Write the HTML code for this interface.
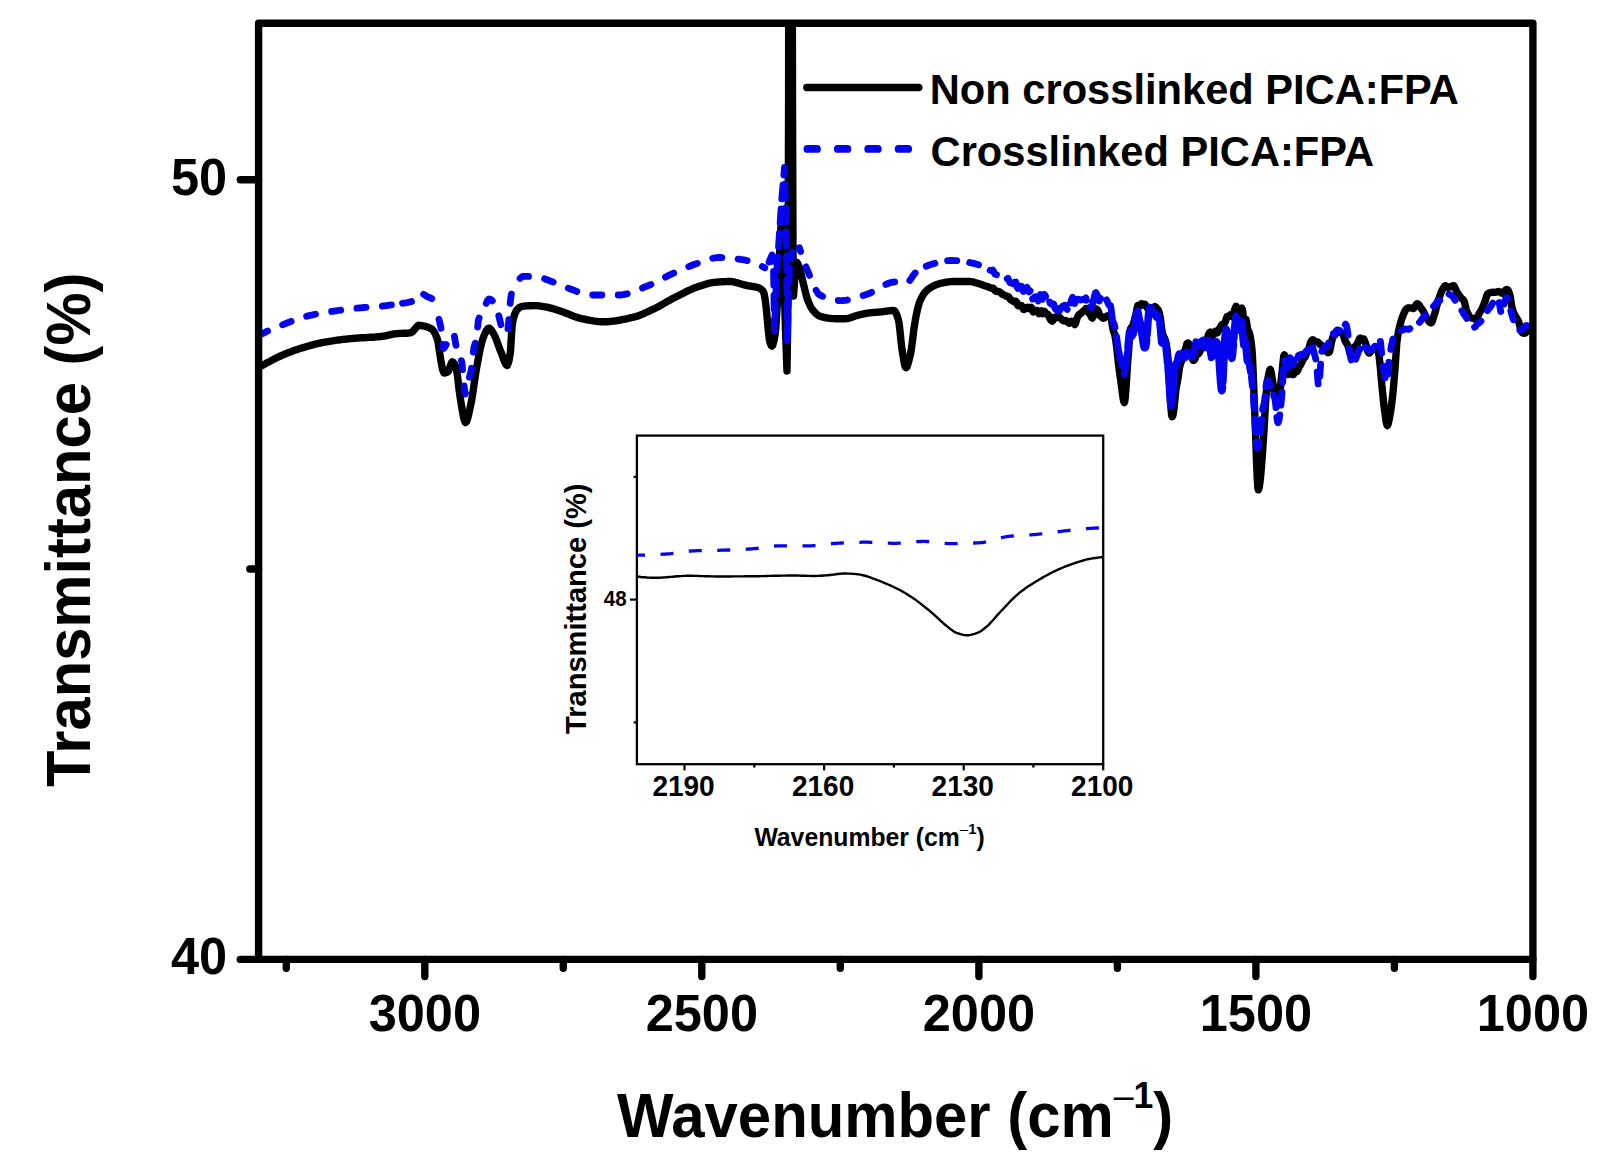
<!DOCTYPE html>
<html lang="en">
<head>
<meta charset="utf-8">
<title>FTIR spectra: Non crosslinked vs Crosslinked PICA:FPA</title>
<style>
html,body{margin:0;padding:0;background:#fff;}
body{width:1603px;height:1174px;overflow:hidden;}
svg{display:block;}
</style>
</head>
<body>
<svg width="1603" height="1174" viewBox="0 0 1603 1174">
<rect width="1603" height="1174" fill="#fff"/>
<defs><clipPath id="cm"><rect x="258.6" y="23.2" width="1274.3000000000002" height="936.1999999999999"/></clipPath><clipPath id="ci"><rect x="636.9" y="435.6" width="466.30000000000007" height="328.6"/></clipPath></defs>
<g clip-path="url(#cm)" fill="none" stroke-linejoin="round" stroke-linecap="round">
<path d="M258.6,367.5 L260.1,366.7 L261.6,365.8 L262.2,365.5 L263.1,365.0 L264.6,364.2 L266.1,363.3 L267.6,362.5 L269.2,361.7 L270.7,360.9 L272.2,360.0 L273.7,359.3 L275.2,358.5 L276.7,357.8 L278.1,357.1 L278.2,357.1 L279.7,356.4 L281.2,355.7 L282.7,355.0 L284.2,354.4 L285.7,353.7 L287.2,353.1 L288.8,352.5 L290.3,351.9 L291.8,351.4 L293.3,350.8 L294.8,350.3 L296.3,349.8 L296.8,349.6 L297.8,349.3 L299.3,348.8 L300.8,348.3 L302.3,347.8 L303.8,347.4 L305.3,346.9 L306.8,346.5 L308.4,346.0 L309.9,345.6 L311.4,345.2 L312.9,344.8 L314.4,344.4 L315.9,344.0 L317.4,343.6 L318.9,343.3 L320.4,343.0 L321.9,342.7 L323.4,342.4 L324.9,342.1 L324.9,342.1 L326.5,341.8 L328.0,341.6 L329.5,341.3 L331.0,341.1 L332.5,340.9 L334.0,340.6 L335.5,340.4 L337.0,340.2 L338.5,340.0 L340.0,339.8 L341.5,339.6 L343.0,339.4 L344.5,339.3 L346.1,339.1 L347.6,338.9 L349.1,338.8 L350.6,338.6 L352.1,338.5 L353.1,338.4 L353.6,338.4 L355.1,338.2 L356.6,338.1 L358.1,338.0 L359.6,337.9 L361.1,337.8 L362.6,337.7 L364.1,337.7 L365.7,337.6 L367.2,337.5 L368.7,337.4 L370.2,337.3 L371.7,337.3 L373.2,337.2 L374.7,337.1 L376.2,336.9 L377.7,336.8 L379.2,336.7 L380.7,336.5 L381.2,336.5 L382.2,336.4 L383.7,336.1 L385.3,335.8 L386.8,335.5 L388.3,335.2 L389.8,334.8 L391.3,334.5 L392.8,334.2 L394.3,333.9 L395.8,333.7 L396.1,333.7 L397.3,333.6 L398.8,333.5 L400.3,333.4 L401.8,333.4 L403.3,333.3 L404.9,333.2 L406.4,333.2 L407.9,333.1 L409.4,332.9 L410.9,332.7 L411.1,332.7 L412.4,331.9 L413.9,330.1 L414.9,329.0 L415.4,328.4 L416.9,326.5 L418.4,325.3 L418.6,325.3 L419.9,325.4 L421.4,325.6 L422.9,325.9 L424.3,326.2 L424.5,326.2 L426.0,326.6 L427.5,327.0 L429.0,327.6 L430.5,328.3 L431.7,329.0 L432.0,329.2 L433.5,330.9 L435.0,333.4 L436.5,336.9 L437.4,339.3 L438.0,341.8 L439.5,351.7 L441.0,361.5 L441.1,361.8 L442.5,369.3 L443.9,373.0 L444.1,373.0 L445.6,372.8 L447.1,372.3 L447.7,372.1 L448.6,370.9 L450.1,366.6 L451.6,362.6 L452.4,361.8 L453.1,362.1 L454.6,364.1 L456.1,367.4 L456.1,367.4 L457.6,376.6 L459.1,389.9 L459.9,395.5 L460.6,400.1 L462.2,409.9 L463.7,418.2 L465.2,422.5 L465.5,422.7 L466.7,421.3 L468.2,416.5 L469.7,409.7 L471.1,403.0 L471.2,402.6 L472.7,394.0 L474.2,383.5 L475.7,373.2 L476.7,367.4 L477.2,364.6 L478.7,356.5 L480.2,348.8 L481.8,342.3 L483.3,337.5 L483.3,337.4 L484.8,333.9 L486.3,330.7 L487.8,328.6 L488.9,328.1 L489.3,328.2 L490.8,329.4 L492.3,331.6 L493.6,333.7 L493.8,334.0 L495.3,337.1 L496.8,340.9 L498.3,345.1 L499.8,349.3 L501.1,352.4 L501.4,353.0 L502.9,357.2 L504.4,361.4 L505.9,364.5 L507.1,365.5 L507.4,365.4 L508.9,361.0 L510.4,352.4 L510.4,352.4 L511.9,328.5 L512.3,324.3 L513.4,318.6 L514.9,313.5 L516.1,311.2 L516.4,310.7 L517.9,308.9 L519.4,307.5 L521.0,306.7 L521.7,306.5 L522.5,306.4 L524.0,306.2 L525.5,306.0 L527.0,305.9 L528.5,305.8 L530.0,305.7 L531.5,305.7 L533.0,305.6 L534.5,305.6 L534.8,305.6 L536.0,305.6 L537.5,305.7 L539.0,305.9 L540.6,306.1 L542.1,306.3 L543.6,306.6 L545.0,306.8 L545.1,306.8 L546.6,307.1 L548.1,307.4 L549.6,307.8 L551.1,308.2 L552.6,308.6 L554.1,309.1 L555.6,309.6 L557.1,310.0 L558.6,310.5 L558.7,310.5 L560.2,311.0 L561.7,311.5 L563.2,312.0 L564.7,312.6 L566.2,313.2 L567.7,313.8 L569.2,314.4 L570.7,315.0 L572.2,315.6 L573.7,316.2 L575.2,316.7 L576.7,317.3 L578.2,317.8 L579.8,318.2 L581.3,318.6 L582.8,318.9 L583.1,319.0 L584.3,319.2 L585.8,319.5 L587.3,319.8 L588.8,320.1 L590.3,320.4 L591.8,320.6 L593.3,320.9 L594.8,321.1 L596.3,321.3 L597.9,321.5 L599.4,321.6 L600.9,321.7 L602.4,321.8 L603.7,321.8 L603.9,321.8 L605.4,321.8 L606.9,321.7 L608.4,321.6 L609.9,321.5 L611.4,321.4 L612.9,321.2 L614.4,321.0 L615.9,320.8 L617.5,320.5 L619.0,320.3 L620.5,320.0 L622.0,319.7 L623.5,319.4 L625.0,319.1 L626.5,318.8 L628.0,318.4 L629.5,318.1 L631.0,317.7 L632.5,317.4 L633.7,317.1 L634.0,317.0 L635.5,316.6 L637.1,316.2 L638.6,315.7 L640.1,315.1 L641.6,314.5 L643.1,313.9 L644.6,313.2 L646.1,312.5 L647.6,311.8 L649.1,311.1 L650.6,310.4 L652.1,309.7 L652.4,309.6 L653.6,309.0 L655.1,308.3 L656.7,307.5 L658.2,306.7 L659.7,305.9 L661.2,305.0 L662.7,304.2 L664.2,303.3 L665.7,302.4 L667.2,301.6 L668.7,300.7 L670.2,299.9 L671.7,299.0 L673.2,298.2 L674.7,297.5 L674.9,297.4 L676.3,296.7 L677.8,296.0 L679.3,295.2 L680.8,294.4 L682.3,293.7 L683.8,292.9 L685.3,292.1 L686.8,291.4 L688.3,290.7 L689.8,290.0 L691.3,289.3 L692.8,288.6 L694.3,288.0 L695.9,287.4 L697.4,286.9 L698.9,286.3 L699.3,286.2 L700.4,285.9 L701.9,285.4 L703.4,284.9 L704.9,284.4 L706.4,284.0 L707.9,283.6 L709.4,283.2 L710.9,282.9 L712.4,282.6 L713.9,282.4 L714.3,282.4 L715.5,282.3 L717.0,282.1 L718.5,282.0 L720.0,281.9 L721.5,281.8 L723.0,281.7 L724.5,281.6 L726.0,281.6 L727.5,281.5 L729.0,281.5 L729.2,281.5 L730.5,281.5 L732.0,281.7 L733.6,281.9 L735.1,282.3 L736.6,282.6 L738.1,283.1 L739.6,283.5 L741.1,284.0 L742.6,284.4 L744.1,284.8 L745.6,285.2 L746.1,285.3 L747.1,285.5 L748.6,285.8 L750.1,286.0 L751.6,286.3 L753.2,286.5 L754.7,286.8 L756.2,287.1 L757.7,287.6 L759.2,288.1 L759.2,288.1 L760.7,288.9 L762.2,290.2 L763.7,292.4 L763.9,292.7 L765.2,299.6 L766.7,312.4 L766.7,312.6 L768.2,329.6 L769.5,340.5 L769.7,341.3 L771.2,345.5 L772.0,346.1 L772.8,345.2 L774.3,339.2 L775.0,335.0 L775.8,327.8 L777.3,303.9 L777.5,300.0 L778.8,271.5 L779.5,255.0 L780.3,238.7 L781.8,210.0 L781.8,210.0 L783.6,262.0 L785.5,330.0 L787.0,371.0 L788.0,300.0 L788.6,100.0 L788.7,-20.0 L792.3,-20.0 L792.5,100.0 L793.0,250.0 L793.5,296.0 L795.0,275.0 L797.0,262.5 L797.0,262.5 L797.7,263.6 L798.4,265.1 L799.1,266.7 L799.4,267.5 L799.8,268.7 L800.5,271.2 L801.2,274.1 L801.9,277.2 L802.6,280.3 L803.3,283.5 L804.0,286.2 L804.0,286.3 L804.7,289.1 L805.4,292.0 L806.1,294.8 L806.8,297.4 L807.5,299.6 L807.8,300.3 L808.3,301.5 L809.0,303.2 L809.7,304.8 L810.4,306.2 L811.1,307.5 L811.8,308.7 L812.5,309.7 L812.5,309.7 L813.2,310.5 L813.9,311.4 L814.6,312.1 L815.3,312.9 L816.0,313.6 L816.7,314.2 L817.4,314.8 L818.1,315.3 L818.8,315.7 L819.5,316.0 L820.0,316.2 L820.2,316.3 L820.9,316.5 L821.6,316.7 L822.3,316.9 L823.0,317.1 L823.7,317.3 L824.4,317.4 L825.1,317.6 L825.8,317.7 L826.5,317.9 L827.2,318.0 L827.9,318.1 L828.6,318.2 L829.4,318.3 L830.1,318.4 L830.8,318.5 L831.5,318.5 L832.2,318.6 L832.9,318.6 L833.0,318.6 L833.6,318.6 L834.3,318.6 L835.0,318.7 L835.7,318.7 L836.4,318.7 L837.1,318.7 L837.8,318.7 L838.5,318.7 L839.2,318.7 L839.9,318.8 L840.6,318.8 L841.3,318.8 L842.0,318.8 L842.7,318.8 L843.4,318.8 L844.1,318.8 L844.8,318.8 L845.0,318.8 L845.5,318.8 L846.2,318.7 L846.9,318.6 L847.6,318.5 L848.3,318.4 L849.0,318.2 L849.7,318.0 L850.5,317.7 L851.2,317.5 L851.9,317.2 L852.6,317.0 L853.3,316.7 L854.0,316.5 L854.7,316.2 L855.4,316.0 L856.1,315.7 L856.8,315.5 L857.5,315.3 L858.0,315.2 L858.2,315.2 L858.9,315.0 L859.6,314.8 L860.3,314.7 L861.0,314.5 L861.7,314.3 L862.4,314.2 L863.1,314.0 L863.8,313.9 L864.5,313.7 L865.2,313.6 L865.9,313.4 L866.6,313.3 L867.3,313.2 L868.0,313.1 L868.7,313.0 L869.4,312.9 L870.0,312.8 L870.1,312.8 L870.8,312.7 L871.5,312.6 L872.3,312.6 L873.0,312.5 L873.7,312.5 L874.4,312.4 L875.1,312.4 L875.8,312.3 L876.5,312.3 L877.2,312.2 L877.9,312.2 L878.6,312.1 L879.3,312.1 L880.0,312.0 L880.0,312.0 L880.7,311.9 L881.4,311.9 L882.1,311.8 L882.8,311.7 L883.5,311.6 L884.2,311.5 L884.9,311.4 L885.6,311.3 L886.3,311.2 L887.0,311.1 L887.7,311.0 L888.4,310.9 L889.1,310.8 L889.8,310.7 L890.5,310.7 L891.2,310.6 L891.9,310.5 L892.6,310.5 L893.4,310.5 L893.7,310.5 L894.1,310.6 L894.8,311.1 L895.5,312.1 L896.2,313.5 L896.9,315.3 L897.6,317.3 L898.3,319.5 L898.4,319.9 L899.0,322.8 L899.7,328.3 L900.4,335.0 L901.1,341.9 L901.8,347.8 L902.1,349.9 L902.5,352.3 L903.2,356.8 L903.9,361.1 L904.6,364.6 L905.3,367.0 L905.9,367.7 L906.0,367.7 L906.7,367.1 L907.4,365.6 L908.1,363.6 L908.8,361.0 L909.5,358.2 L910.2,355.2 L910.6,353.6 L910.9,352.0 L911.6,347.7 L912.3,342.3 L913.0,336.5 L913.7,330.7 L914.5,325.2 L915.2,320.7 L915.3,319.9 L915.9,317.0 L916.6,313.6 L917.3,310.3 L918.0,307.4 L918.7,304.8 L919.4,302.5 L919.9,301.2 L920.1,300.8 L920.8,299.3 L921.5,297.9 L922.2,296.5 L922.9,295.3 L923.6,294.2 L924.3,293.2 L925.0,292.3 L925.7,291.5 L926.4,290.8 L927.1,290.1 L927.4,289.9 L927.8,289.6 L928.5,289.1 L929.2,288.6 L929.9,288.1 L930.6,287.6 L931.3,287.2 L932.0,286.8 L932.7,286.4 L933.4,286.0 L934.1,285.6 L934.8,285.3 L935.5,285.0 L936.3,284.7 L937.0,284.4 L937.7,284.2 L938.4,284.0 L939.1,283.8 L939.8,283.6 L940.5,283.4 L940.5,283.4 L941.2,283.2 L941.9,283.1 L942.6,282.9 L943.3,282.8 L944.0,282.7 L944.7,282.5 L945.4,282.4 L946.1,282.2 L946.8,282.1 L947.5,282.0 L948.2,281.9 L948.9,281.8 L949.6,281.7 L950.3,281.7 L951.0,281.6 L951.7,281.6 L952.4,281.5 L953.1,281.5 L953.7,281.5 L953.8,281.5 L954.5,281.5 L955.2,281.5 L955.9,281.5 L956.6,281.5 L957.4,281.5 L958.1,281.5 L958.8,281.5 L959.5,281.5 L960.2,281.5 L960.9,281.5 L961.6,281.5 L962.3,281.5 L963.0,281.5 L963.7,281.5 L964.4,281.5 L965.1,281.5 L965.8,281.5 L966.5,281.5 L967.2,281.5 L967.9,281.5 L968.6,281.5 L968.7,281.5 L969.3,281.5 L970.0,281.5 L970.7,281.6 L971.4,281.7 L972.1,281.8 L972.8,281.9 L973.5,282.1 L974.2,282.3 L974.9,282.5 L975.6,282.7 L976.3,282.9 L977.0,283.1 L977.7,283.3 L978.5,283.5 L979.2,283.8 L979.9,284.0 L980.6,284.3 L981.3,284.5 L982.0,284.7 L982.7,285.0 L983.4,285.2 L983.6,285.3 L984.1,285.5 L984.8,285.7 L985.5,286.0 L986.2,286.2 L986.9,286.3 L987.6,286.4 L988.3,286.8 L989.0,287.2 L989.7,287.6 L990.4,287.9 L991.1,288.2 L991.8,288.3 L992.5,288.2 L993.2,288.1 L993.9,288.9 L994.6,289.9 L995.3,290.9 L996.0,291.1 L996.7,291.4 L997.4,291.5 L998.1,291.5 L998.6,291.5 L998.8,291.5 L999.5,291.9 L1000.3,292.4 L1001.0,293.0 L1001.7,293.6 L1002.4,294.3 L1003.1,294.7 L1003.8,294.9 L1004.5,295.1 L1005.2,295.5 L1005.9,295.9 L1006.6,296.4 L1007.3,296.4 L1008.0,296.5 L1008.7,296.8 L1009.4,298.0 L1010.1,299.2 L1010.8,299.9 L1011.5,300.2 L1012.2,300.5 L1012.9,301.0 L1013.6,301.5 L1013.6,301.5 L1014.3,301.8 L1015.0,301.5 L1015.7,301.2 L1016.4,301.8 L1017.1,303.6 L1017.8,305.5 L1018.5,305.8 L1019.2,305.6 L1019.9,305.4 L1020.6,305.5 L1021.4,305.7 L1022.1,306.4 L1022.8,307.9 L1023.5,309.4 L1024.2,309.5 L1024.9,308.9 L1025.6,308.2 L1026.3,307.8 L1026.7,307.5 L1027.0,307.4 L1027.7,307.2 L1028.4,308.0 L1029.1,308.7 L1029.8,308.7 L1030.5,308.0 L1031.2,307.4 L1031.9,308.8 L1032.6,310.5 L1033.3,311.9 L1034.0,311.3 L1034.7,310.7 L1035.4,310.4 L1036.1,310.4 L1036.8,310.4 L1037.5,311.3 L1038.2,312.5 L1038.9,313.6 L1039.6,312.3 L1039.9,311.9 L1040.3,311.1 L1041.0,310.8 L1041.7,312.3 L1042.5,313.8 L1043.2,313.6 L1043.9,312.5 L1044.6,311.5 L1045.3,312.4 L1046.0,313.5 L1046.7,314.3 L1047.4,314.4 L1048.1,314.5 L1048.8,315.5 L1049.5,317.4 L1050.2,319.3 L1050.9,320.1 L1051.6,320.7 L1052.3,321.1 L1053.0,320.4 L1053.0,320.4 L1053.7,318.3 L1054.4,317.2 L1055.1,317.4 L1055.8,317.7 L1056.5,317.3 L1057.2,316.6 L1057.9,315.9 L1058.6,316.3 L1058.6,316.4 L1059.3,317.1 L1060.0,318.1 L1060.7,318.5 L1061.4,319.1 L1062.1,319.8 L1062.8,320.5 L1063.5,320.7 L1064.2,320.9 L1064.2,320.9 L1064.9,320.7 L1065.6,320.4 L1066.3,321.1 L1067.0,321.7 L1067.7,322.1 L1068.4,322.5 L1069.1,323.1 L1069.8,322.4 L1069.8,322.4 L1070.5,321.6 L1071.2,321.2 L1071.9,321.5 L1072.6,321.7 L1073.3,322.3 L1073.6,322.9 L1074.0,323.7 L1074.7,324.6 L1075.5,323.4 L1076.2,321.0 L1076.9,318.6 L1077.6,317.0 L1078.3,315.7 L1079.0,314.7 L1079.2,314.5 L1079.7,314.2 L1080.4,313.8 L1081.1,313.2 L1081.8,312.5 L1082.5,311.8 L1083.2,311.2 L1083.9,310.8 L1084.6,310.3 L1085.3,309.4 L1086.0,308.5 L1086.7,308.5 L1086.7,308.6 L1087.4,310.0 L1088.1,311.8 L1088.8,312.9 L1089.5,313.6 L1090.2,314.2 L1090.9,315.9 L1091.6,317.4 L1092.3,318.0 L1092.3,318.0 L1093.0,316.8 L1093.7,315.1 L1094.4,313.2 L1095.1,311.1 L1095.8,309.1 L1096.5,309.0 L1097.2,309.6 L1097.9,310.5 L1097.9,310.5 L1098.6,312.1 L1099.3,314.3 L1100.0,315.8 L1100.7,316.2 L1101.4,316.5 L1102.1,317.4 L1102.8,318.1 L1103.5,318.3 L1103.6,318.3 L1104.2,318.0 L1104.9,317.5 L1105.6,316.9 L1106.3,316.5 L1107.0,316.0 L1107.7,315.9 L1108.4,316.0 L1109.1,316.4 L1109.2,316.4 L1109.8,316.3 L1110.5,316.8 L1111.2,318.4 L1111.9,322.6 L1112.6,327.2 L1113.3,330.6 L1114.0,332.5 L1114.7,334.5 L1114.8,334.6 L1115.4,338.0 L1116.1,342.8 L1116.8,348.2 L1117.5,354.7 L1118.2,361.4 L1119.0,367.8 L1119.7,373.3 L1120.0,375.7 L1120.4,378.2 L1121.1,383.2 L1121.8,388.6 L1122.5,394.0 L1123.2,398.9 L1123.9,402.0 L1124.3,402.5 L1124.6,402.1 L1125.3,397.2 L1126.0,388.4 L1126.7,377.5 L1127.4,366.3 L1128.0,357.8 L1128.1,357.0 L1128.8,348.0 L1129.5,338.5 L1130.2,330.1 L1130.9,327.9 L1130.9,327.9 L1131.6,327.8 L1132.3,327.2 L1133.0,325.1 L1133.7,323.0 L1134.4,320.3 L1135.1,317.5 L1135.8,314.9 L1136.5,311.2 L1137.2,307.7 L1137.5,306.3 L1137.9,305.5 L1138.6,305.9 L1139.3,306.4 L1140.0,305.9 L1140.7,304.6 L1141.4,303.8 L1142.1,303.9 L1142.8,304.1 L1143.5,304.4 L1144.2,304.8 L1144.9,304.5 L1145.0,304.4 L1145.6,305.3 L1146.3,306.4 L1147.0,307.7 L1147.7,308.3 L1148.4,308.2 L1149.1,307.7 L1149.8,307.9 L1150.5,307.8 L1151.2,307.9 L1151.9,308.3 L1152.6,308.8 L1153.3,308.3 L1154.0,307.4 L1154.3,307.0 L1154.7,306.5 L1155.4,306.9 L1156.1,307.7 L1156.8,308.7 L1157.5,309.1 L1158.2,309.7 L1158.9,311.6 L1159.6,314.7 L1160.3,317.9 L1161.0,323.2 L1161.7,329.1 L1161.8,329.5 L1162.5,334.8 L1163.2,335.6 L1163.9,336.9 L1164.6,338.5 L1165.3,340.4 L1166.0,342.9 L1166.7,347.1 L1167.4,352.4 L1167.5,353.5 L1168.1,359.7 L1168.8,370.5 L1169.5,383.3 L1170.2,396.3 L1170.9,407.7 L1171.6,415.0 L1172.1,416.8 L1172.3,416.8 L1173.0,414.9 L1173.7,410.9 L1174.4,404.8 L1175.1,397.5 L1175.8,390.1 L1176.5,385.6 L1176.8,384.2 L1177.2,382.7 L1177.9,378.9 L1178.6,373.7 L1179.3,368.7 L1180.0,365.5 L1180.7,363.2 L1181.4,361.4 L1182.1,357.8 L1182.4,356.5 L1182.8,354.8 L1183.5,352.5 L1184.2,351.7 L1184.9,351.0 L1185.6,349.0 L1186.3,346.1 L1187.0,343.6 L1187.7,343.0 L1188.1,343.0 L1188.4,343.1 L1189.1,344.5 L1189.8,347.0 L1190.5,350.0 L1191.2,353.3 L1191.9,356.6 L1192.6,359.3 L1193.3,360.4 L1193.7,360.4 L1194.0,360.2 L1194.7,359.5 L1195.4,357.6 L1196.1,355.5 L1196.8,354.0 L1197.5,354.1 L1198.2,354.1 L1198.9,353.3 L1199.6,352.0 L1200.3,350.7 L1201.0,349.3 L1201.2,348.9 L1201.7,347.8 L1202.4,346.3 L1203.1,344.8 L1203.8,343.2 L1204.5,342.7 L1205.2,343.3 L1206.0,343.9 L1206.7,342.0 L1207.4,338.9 L1208.1,335.7 L1208.7,334.2 L1208.8,334.1 L1209.5,332.6 L1210.2,332.2 L1210.9,333.9 L1211.6,336.0 L1212.3,335.9 L1213.0,334.5 L1213.7,333.1 L1214.4,332.3 L1215.1,331.4 L1215.8,331.0 L1216.2,331.6 L1216.5,332.0 L1217.2,332.9 L1217.9,332.2 L1218.6,330.5 L1219.3,329.0 L1220.0,327.7 L1220.7,326.5 L1221.4,325.3 L1222.1,324.5 L1222.8,324.5 L1223.5,324.4 L1224.2,323.7 L1224.9,322.6 L1225.6,320.9 L1226.3,318.7 L1227.0,316.5 L1227.4,316.5 L1227.7,316.5 L1228.4,316.5 L1229.1,316.2 L1229.8,315.5 L1230.5,314.7 L1231.2,314.9 L1231.9,315.9 L1232.6,316.8 L1233.3,314.6 L1234.0,311.9 L1234.7,309.4 L1235.4,307.8 L1236.1,306.3 L1236.8,307.0 L1236.8,307.1 L1237.5,310.7 L1238.2,314.5 L1238.9,313.7 L1239.6,311.4 L1240.3,309.3 L1241.0,308.7 L1241.7,308.2 L1242.4,309.6 L1243.1,314.8 L1243.8,320.0 L1244.5,321.3 L1245.2,320.4 L1245.9,319.4 L1246.1,319.8 L1246.6,322.6 L1247.3,326.7 L1248.0,330.4 L1248.7,331.4 L1249.5,333.3 L1250.2,336.4 L1250.9,340.7 L1251.6,345.8 L1251.8,347.9 L1252.3,353.8 L1253.0,368.2 L1253.7,385.8 L1254.4,404.1 L1254.6,409.7 L1255.1,421.2 L1255.8,440.8 L1256.5,460.6 L1257.2,477.3 L1257.9,487.9 L1258.3,489.8 L1258.6,489.5 L1259.3,486.7 L1260.0,481.9 L1260.7,475.5 L1261.4,467.7 L1262.1,458.2 L1262.8,448.3 L1263.0,445.3 L1263.5,438.8 L1264.2,426.8 L1264.9,414.3 L1265.6,402.0 L1265.6,401.9 L1266.3,392.4 L1267.0,384.2 L1267.7,379.6 L1268.0,378.1 L1268.4,376.1 L1269.1,372.5 L1269.8,369.9 L1270.3,369.5 L1270.5,369.9 L1271.2,372.6 L1271.9,376.8 L1272.5,380.4 L1272.6,381.0 L1273.3,385.9 L1274.0,391.2 L1274.7,394.7 L1275.0,395.1 L1275.4,395.8 L1276.1,397.5 L1276.8,400.6 L1277.5,402.8 L1277.8,403.0 L1278.2,402.3 L1278.9,399.0 L1279.5,395.6 L1279.6,394.9 L1280.3,389.1 L1281.0,381.9 L1281.6,376.7 L1281.7,375.7 L1282.4,369.1 L1283.1,361.7 L1283.8,355.8 L1284.4,354.8 L1284.5,355.0 L1285.2,358.0 L1285.9,362.4 L1286.5,365.9 L1286.6,366.7 L1287.3,371.3 L1288.0,374.6 L1288.7,374.1 L1289.1,373.0 L1289.4,371.7 L1290.1,371.5 L1290.8,372.9 L1291.5,374.3 L1292.2,374.5 L1293.0,374.6 L1293.7,374.3 L1294.0,373.4 L1294.4,372.5 L1295.1,370.6 L1295.8,370.1 L1296.5,370.7 L1297.2,371.3 L1297.9,370.0 L1298.6,368.1 L1299.3,366.3 L1299.4,366.2 L1300.0,365.7 L1300.7,364.6 L1301.4,363.2 L1302.1,361.5 L1302.8,359.9 L1303.0,359.4 L1303.5,358.9 L1304.2,358.1 L1304.9,357.3 L1305.6,355.6 L1306.3,353.9 L1306.9,352.4 L1307.0,352.3 L1307.7,351.3 L1308.4,350.1 L1309.1,348.0 L1309.8,345.2 L1310.0,344.4 L1310.5,342.6 L1311.2,341.3 L1311.9,340.3 L1312.6,339.8 L1313.3,340.0 L1313.4,340.0 L1314.0,340.8 L1314.7,341.3 L1315.4,341.5 L1316.1,341.7 L1316.5,341.8 L1316.8,341.8 L1317.5,341.9 L1318.2,342.5 L1318.9,343.1 L1319.6,343.8 L1320.0,344.3 L1320.3,344.6 L1321.0,345.0 L1321.7,345.2 L1322.4,345.8 L1323.1,346.9 L1323.8,348.1 L1324.5,348.7 L1325.0,349.0 L1325.2,349.2 L1325.9,349.9 L1326.6,351.0 L1327.3,352.2 L1328.0,352.7 L1328.7,352.4 L1329.4,351.9 L1329.4,351.8 L1330.1,349.7 L1330.8,345.9 L1331.5,341.9 L1332.0,340.3 L1332.2,339.6 L1332.9,337.1 L1333.6,334.9 L1334.3,333.7 L1335.0,333.4 L1335.0,333.4 L1335.7,332.7 L1336.4,331.4 L1337.2,330.2 L1337.9,330.5 L1338.6,331.1 L1338.7,331.3 L1339.3,331.8 L1340.0,331.8 L1340.7,332.1 L1341.4,332.5 L1341.5,332.5 L1342.1,332.8 L1342.8,333.4 L1343.5,335.4 L1344.2,337.9 L1344.3,338.4 L1344.9,340.5 L1345.6,341.6 L1346.3,342.8 L1347.0,344.0 L1347.0,344.0 L1347.7,345.4 L1348.4,347.0 L1349.1,350.3 L1349.8,352.9 L1350.0,353.3 L1350.5,353.8 L1351.2,351.9 L1351.9,350.4 L1352.6,349.4 L1353.3,348.2 L1353.5,347.9 L1354.0,347.4 L1354.7,346.8 L1355.4,346.1 L1356.1,345.5 L1356.5,345.0 L1356.8,344.5 L1357.5,343.3 L1358.2,341.9 L1358.9,340.1 L1359.5,338.8 L1359.6,338.6 L1360.3,338.1 L1361.0,339.0 L1361.7,340.0 L1362.2,339.8 L1362.4,339.4 L1363.1,338.9 L1363.8,339.0 L1364.5,340.7 L1365.2,342.5 L1365.5,343.1 L1365.9,344.3 L1366.6,346.9 L1367.3,349.6 L1368.0,351.7 L1368.7,352.9 L1368.7,352.9 L1369.4,353.1 L1370.1,352.3 L1370.8,351.3 L1371.5,350.3 L1372.0,350.0 L1372.2,349.8 L1372.9,349.3 L1373.6,348.4 L1374.3,347.4 L1375.0,346.6 L1375.3,346.5 L1375.7,346.7 L1376.4,347.7 L1377.1,349.1 L1377.5,349.7 L1377.8,350.5 L1378.5,353.1 L1379.0,355.4 L1379.2,357.1 L1379.9,363.5 L1380.7,371.4 L1381.4,379.6 L1381.8,384.4 L1382.1,387.0 L1382.8,394.3 L1383.5,401.2 L1384.2,407.4 L1384.5,409.9 L1384.9,412.6 L1385.6,417.9 L1386.3,422.4 L1387.0,425.1 L1387.3,425.5 L1387.7,425.2 L1388.4,423.1 L1389.1,419.8 L1389.8,416.0 L1390.0,414.8 L1390.5,412.2 L1391.2,407.5 L1391.9,402.0 L1392.6,395.9 L1393.0,392.0 L1393.3,389.2 L1394.0,381.1 L1394.7,372.2 L1395.4,363.0 L1395.6,360.2 L1396.1,352.9 L1396.8,343.3 L1396.8,343.2 L1397.5,337.5 L1398.2,333.0 L1398.9,329.6 L1399.4,327.4 L1399.6,326.7 L1400.3,324.0 L1401.0,321.4 L1401.7,319.0 L1402.4,317.2 L1402.5,316.9 L1403.1,315.4 L1403.8,313.7 L1404.5,312.1 L1405.2,310.6 L1405.9,309.6 L1405.9,309.6 L1406.6,308.9 L1407.3,308.3 L1408.0,307.9 L1408.7,307.8 L1408.7,307.8 L1409.4,307.9 L1410.1,307.9 L1410.8,307.9 L1411.5,308.1 L1412.2,308.3 L1412.9,308.5 L1413.0,308.6 L1413.6,308.4 L1414.3,307.7 L1415.0,306.6 L1415.7,305.4 L1416.4,304.4 L1417.1,303.8 L1417.2,303.8 L1417.8,303.9 L1418.5,304.4 L1419.2,305.2 L1419.9,306.3 L1420.6,307.5 L1421.3,308.5 L1421.9,309.2 L1422.0,309.4 L1422.7,310.4 L1423.4,311.7 L1424.2,313.1 L1424.9,314.6 L1425.6,316.1 L1426.3,317.4 L1426.6,318.0 L1427.0,318.5 L1427.7,319.6 L1428.4,320.8 L1429.1,321.6 L1429.8,322.3 L1430.5,322.7 L1431.2,322.9 L1431.2,322.9 L1431.9,322.2 L1432.6,320.3 L1433.3,318.0 L1434.0,315.8 L1434.0,315.7 L1434.7,313.5 L1435.4,311.1 L1436.1,308.5 L1436.8,305.7 L1437.5,303.0 L1437.8,301.8 L1438.2,300.7 L1438.9,298.7 L1439.6,296.7 L1440.3,294.6 L1441.0,292.6 L1441.1,292.4 L1441.7,291.0 L1442.4,289.7 L1443.1,288.5 L1443.8,287.4 L1444.5,286.4 L1445.2,285.8 L1445.3,285.7 L1445.9,285.9 L1446.6,286.5 L1447.3,287.2 L1448.0,287.3 L1448.7,287.2 L1449.0,287.1 L1449.4,287.0 L1450.1,286.9 L1450.8,286.8 L1451.5,286.5 L1452.2,286.1 L1452.9,285.7 L1453.6,285.7 L1453.7,285.7 L1454.3,286.3 L1455.0,287.7 L1455.7,289.3 L1456.4,291.0 L1457.0,292.1 L1457.1,292.3 L1457.8,293.4 L1458.5,294.4 L1459.2,295.4 L1459.9,296.4 L1460.6,297.3 L1461.2,297.9 L1461.3,298.1 L1462.0,298.7 L1462.7,299.2 L1463.4,300.0 L1464.0,300.9 L1464.1,301.2 L1464.8,303.5 L1465.5,306.6 L1466.2,309.6 L1466.9,311.7 L1466.9,311.8 L1467.7,313.2 L1468.4,314.5 L1469.1,315.8 L1469.8,316.8 L1470.5,317.5 L1470.6,317.5 L1471.2,317.8 L1471.9,318.1 L1472.6,318.3 L1473.3,318.5 L1474.0,318.7 L1474.7,318.7 L1475.4,318.7 L1476.1,318.6 L1476.2,318.6 L1476.8,318.0 L1477.5,316.7 L1478.2,315.4 L1478.9,314.1 L1479.6,312.8 L1480.0,312.1 L1480.3,311.7 L1481.0,310.5 L1481.7,309.3 L1482.4,307.8 L1483.1,306.2 L1483.8,304.6 L1484.5,302.9 L1484.7,302.4 L1485.2,300.9 L1485.9,298.4 L1486.6,296.0 L1487.3,294.4 L1487.5,294.2 L1488.0,293.7 L1488.7,293.2 L1489.4,292.8 L1490.1,292.7 L1490.8,292.6 L1491.5,292.5 L1492.2,292.3 L1492.2,292.3 L1492.9,292.1 L1493.6,292.2 L1494.3,292.3 L1495.0,292.4 L1495.7,292.2 L1496.4,292.0 L1497.1,291.8 L1497.8,291.7 L1498.5,291.5 L1498.7,291.4 L1499.2,291.6 L1499.9,292.1 L1500.6,292.6 L1501.3,293.0 L1502.0,293.4 L1502.5,293.4 L1502.7,293.3 L1503.4,292.8 L1504.1,291.9 L1504.8,291.0 L1505.5,290.2 L1506.2,289.8 L1506.7,289.5 L1506.9,289.5 L1507.6,289.8 L1508.3,290.6 L1509.0,292.4 L1509.7,294.5 L1510.0,295.3 L1510.4,297.5 L1511.2,302.9 L1511.8,307.0 L1511.9,307.2 L1512.6,309.7 L1513.3,311.7 L1514.0,313.3 L1514.7,314.8 L1514.7,314.9 L1515.4,316.1 L1516.1,317.2 L1516.8,318.3 L1517.5,319.5 L1518.2,320.8 L1518.4,321.2 L1518.9,322.5 L1519.6,325.1 L1520.3,327.8 L1521.0,330.2 L1521.7,332.0 L1522.1,332.5 L1522.4,332.7 L1523.1,333.1 L1523.8,333.3 L1524.5,333.2 L1525.0,333.1 L1525.2,333.0 L1525.9,332.5 L1526.6,331.5 L1527.3,330.5 L1528.0,329.9 L1528.7,329.8 L1528.7,329.8 L1529.4,330.1 L1530.1,330.3 L1530.8,330.6 L1531.5,331.2 L1532.2,332.0 L1532.9,333.0" stroke="#000" stroke-width="7.4"/>
<path d="M258.4,335.6 L259.9,334.9 L261.4,334.1 L262.9,333.4 L264.4,332.7 L265.9,331.9 L267.4,331.2 L268.9,330.6 L270.5,329.9 L272.0,329.2 L273.5,328.5 L275.0,327.9 L276.5,327.2 L278.0,326.6 L279.5,326.0 L281.0,325.4 L282.5,324.8 L283.7,324.3 L284.0,324.2 L285.5,323.6 L287.0,323.0 L288.5,322.4 L290.0,321.8 L291.6,321.3 L293.1,320.7 L294.6,320.1 L296.1,319.6 L297.6,319.0 L299.1,318.5 L300.6,318.0 L302.1,317.6 L303.6,317.1 L305.1,316.7 L306.6,316.3 L308.1,315.9 L308.1,315.9 L309.6,315.5 L311.1,315.2 L312.7,314.9 L314.2,314.5 L315.7,314.2 L317.2,313.9 L318.7,313.7 L320.2,313.4 L321.7,313.1 L323.2,312.8 L324.7,312.6 L326.2,312.3 L327.7,312.1 L329.2,311.9 L330.7,311.6 L332.2,311.4 L333.8,311.2 L335.3,310.9 L336.2,310.8 L336.8,310.7 L338.3,310.5 L339.8,310.3 L341.3,310.1 L342.8,309.9 L344.3,309.7 L345.8,309.5 L347.3,309.3 L348.8,309.1 L350.3,308.9 L351.8,308.7 L353.3,308.6 L354.9,308.4 L356.4,308.2 L357.9,308.1 L359.4,307.9 L360.5,307.8 L360.9,307.8 L362.4,307.6 L363.9,307.5 L365.4,307.4 L366.9,307.3 L368.4,307.1 L369.9,307.0 L371.4,306.9 L372.9,306.8 L374.4,306.7 L376.0,306.6 L377.5,306.5 L379.0,306.4 L380.5,306.2 L382.0,306.1 L383.0,306.0 L383.5,305.9 L385.0,305.8 L386.5,305.6 L388.0,305.4 L389.5,305.2 L391.0,305.0 L392.5,304.8 L394.0,304.6" stroke="#0404ee" stroke-width="6.8" stroke-dasharray="9.2 16.3" stroke-dashoffset="24.49"/>
<path d="M395.5,304.4 L397.1,304.2 L398.6,303.9 L400.0,303.7 L400.1,303.7 L401.6,303.5 L403.1,303.2 L404.6,303.0 L406.1,302.8 L407.6,302.5 L409.1,302.2 L410.6,301.8 L412.1,301.3 L413.0,301.0 L413.6,300.7 L415.1,299.4 L416.5,298.0 L416.6,297.8 L418.2,295.2 L419.7,293.1 L420.0,293.0 L421.2,293.2 L422.7,293.8 L424.2,294.7 L425.7,295.7 L427.0,296.5 L427.2,296.6 L428.7,297.3 L430.2,297.8 L431.7,298.5 L433.2,299.5 L434.5,300.6 L434.7,300.9 L436.2,306.3" stroke="#0404ee" stroke-width="6.8" stroke-dasharray="9.2 16.3" stroke-dashoffset="18.39"/>
<path d="M437.8,314.1 L438.3,316.7 L439.3,320.6 L440.8,327.0 L441.4,330.5 L442.3,339.5 L443.4,348.5 L443.8,348.4 L445.3,346.3 L446.8,343.3 L447.0,343.0 L448.3,340.8 L449.8,337.9 L451.3,335.3 L452.8,333.7 L453.5,333.5 L454.3,335.6 L455.8,344.7 L456.5,348.0 L457.3,350.6 L458.8,353.7 L460.4,356.9 L461.9,362.3 L462.0,363.0 L463.3,378.0 L463.4,378.7 L464.9,393.2 L465.2,394.0 L466.4,391.0 L467.9,383.1 L468.3,381.2 L469.4,377.2 L470.9,371.7 L472.0,366.0 L472.4,362.2 L473.5,350.0 L473.9,347.7 L475.4,342.3 L476.7,336.7 L476.9,334.8 L478.2,321.3 L478.4,320.3 L479.9,315.5 L481.5,312.4 L483.0,310.0 L484.4,307.5 L484.5,307.4 L486.0,303.8 L487.5,300.5 L489.0,299.0 L489.0,299.0 L490.5,299.4 L491.5,300.0 L492.0,300.4 L493.5,302.4 L495.0,305.5 L496.5,309.2 L498.0,313.3 L498.2,313.7 L499.5,318.6 L501.0,324.9 L502.0,327.5 L502.6,328.5 L504.1,330.9 L505.6,332.7 L507.1,333.6 L507.4,333.6 L508.6,323.0 L509.0,318.0 L510.1,304.1 L510.5,300.0 L511.6,292.4 L513.0,286.5 L513.1,286.3 L514.6,283.8" stroke="#0404ee" stroke-width="6.8" stroke-dasharray="9.2 16.3" stroke-dashoffset="20.21"/>
<path d="M516.1,282.2 L517.6,280.8 L518.0,280.5 L519.1,279.4 L520.6,277.9 L522.1,276.7 L523.5,276.3 L523.7,276.3 L525.2,276.3 L526.7,276.4 L528.2,276.4 L529.7,276.5 L531.2,276.6 L532.7,276.7 L534.2,276.8 L535.7,277.0 L537.2,277.1 L538.6,277.3 L538.7,277.3 L540.2,277.6 L541.7,277.9 L543.2,278.4 L544.8,278.9 L546.3,279.5 L547.8,280.1 L549.3,280.6 L549.8,280.8 L550.8,281.2 L552.3,281.7 L553.8,282.3 L555.3,282.9 L556.8,283.6 L558.3,284.2 L559.8,284.8 L561.3,285.5 L562.8,286.1 L564.3,286.7 L565.9,287.3 L567.4,287.8 L568.1,288.1 L568.9,288.4 L570.4,288.9 L571.9,289.5 L573.4,290.1 L574.9,290.7 L576.4,291.3 L577.9,291.9 L579.4,292.4 L580.9,292.9 L582.4,293.4 L583.9,293.9 L585.5,294.3 L587.0,294.6 L588.5,294.8 L590.0,294.9 L591.5,295.0 L591.5,295.0 L593.0,295.0 L594.5,295.0 L596.0,295.0 L597.5,295.0 L599.0,295.0 L600.5,295.0 L602.0,295.0 L603.5,295.0 L605.0,295.0 L606.5,295.0 L608.1,295.0 L609.6,295.0 L611.1,295.0 L612.6,295.0 L614.1,295.0 L615.6,295.0 L617.1,295.0 L618.6,295.0 L619.1,295.0 L620.1,295.0 L621.6,294.9 L623.1,294.7 L624.6,294.4 L626.1,294.1 L627.6,293.7 L629.2,293.3 L630.7,292.8 L632.2,292.2 L633.7,291.7 L635.2,291.1 L636.7,290.4 L638.2,289.8 L639.7,289.1 L641.2,288.5 L642.7,287.9 L644.2,287.2 L645.7,286.6 L646.8,286.2 L647.2,286.0 L648.8,285.4 L650.3,284.8 L651.8,284.1 L653.3,283.4 L654.8,282.6 L656.3,281.9 L657.8,281.1 L659.3,280.3 L660.8,279.5 L662.3,278.7 L663.8,277.9 L665.3,277.2 L666.8,276.4 L668.3,275.6 L669.8,274.9 L671.4,274.2 L672.9,273.5 L673.0,273.4 L674.4,272.8 L675.9,272.1 L677.4,271.4 L678.9,270.7 L680.4,270.1 L681.9,269.4 L683.4,268.8 L684.9,268.1 L686.4,267.5 L687.9,266.9 L689.4,266.3 L691.0,265.7 L692.5,265.1 L694.0,264.6 L694.0,264.6 L695.5,264.1 L697.0,263.5 L698.5,263.0 L700.0,262.4 L701.5,261.8 L703.0,261.2 L704.5,260.7 L706.0,260.1 L707.5,259.6 L709.0,259.2 L710.5,258.7 L712.0,258.4 L713.6,258.0 L715.1,257.8 L716.6,257.6 L718.1,257.5 L718.9,257.5 L719.6,257.5 L721.1,257.5 L722.6,257.6 L724.1,257.6 L725.6,257.7 L727.1,257.8 L728.6,258.0 L730.1,258.1 L731.6,258.3 L733.1,258.4 L734.7,258.6 L736.2,258.8 L737.7,259.0 L739.2,259.2 L740.7,259.5 L742.2,259.7 L743.7,259.9 L744.2,260.0 L745.2,260.2 L746.7,260.5 L748.2,260.9 L749.7,261.3 L751.2,261.8 L752.7,262.3 L754.2,262.9 L755.8,263.5 L757.3,264.2 L758.8,264.9 L760.3,265.6 L761.8,266.3 L763.3,267.0 L764.8,267.8 L764.8,267.8" stroke="#0404ee" stroke-width="6.8" stroke-dasharray="9.2 16.3" stroke-dashoffset="20.05"/>
<path d="M769.0,262.0 L772.0,255.0 L773.5,268.0 L774.5,331.0 L775.5,300.0 L777.0,268.0 L779.0,240.0 L781.5,202.0 L784.5,167.5 L785.5,202.0 L786.3,240.0 L787.0,300.0 L787.4,341.0 L788.2,300.0 L789.5,268.0 L792.0,252.0" stroke="#0404ee" stroke-width="6.8" stroke-dasharray="14 10" stroke-dashoffset="0"/>
<path d="M799.4,247.8 L799.4,247.8 L800.1,250.0 L800.8,252.1 L801.5,254.3 L802.2,256.3 L802.9,258.4 L803.6,260.4 L804.3,262.3 L805.0,264.2 L805.7,266.1 L806.4,267.9 L807.1,269.6 L807.8,271.2 L807.8,271.3 L808.5,272.9 L809.2,274.6 L809.9,276.4 L810.6,278.1 L811.3,279.9 L812.0,281.6 L812.7,283.3 L813.4,284.9 L814.2,286.5 L814.9,288.0 L815.6,289.4 L816.3,290.7 L817.0,291.9 L817.7,292.9 L818.4,293.8 L819.1,294.5 L819.8,295.0 L820.0,295.1 L820.5,295.3 L821.2,295.7 L821.9,296.0 L822.6,296.3 L823.3,296.6 L824.0,296.9 L824.7,297.2 L825.4,297.5 L826.1,297.7 L826.8,298.0 L827.5,298.2 L828.2,298.5 L828.9,298.7 L829.6,298.9 L830.3,299.1 L831.0,299.3 L831.7,299.5 L832.4,299.6 L833.1,299.8 L833.8,299.9 L834.5,300.0 L835.2,300.2 L835.9,300.3 L836.6,300.3 L837.3,300.4 L838.0,300.5 L838.7,300.5 L839.4,300.6 L840.1,300.6 L840.8,300.6 L841.0,300.6 L841.5,300.6 L842.3,300.6 L843.0,300.5 L843.7,300.5 L844.4,300.4 L845.1,300.4 L845.8,300.3 L846.5,300.2 L847.2,300.1 L847.9,299.9 L848.6,299.8 L849.3,299.7 L850.0,299.5 L850.7,299.4 L851.4,299.2 L852.1,299.0 L852.8,298.8 L853.5,298.6 L854.2,298.4 L854.9,298.2 L855.6,298.0 L856.3,297.8 L857.0,297.6 L857.7,297.4 L858.4,297.2 L859.1,296.9 L859.8,296.7 L860.5,296.5 L861.2,296.2 L861.9,296.0 L862.6,295.7 L863.3,295.5 L864.0,295.3 L864.7,295.0 L865.4,294.8 L866.1,294.6 L866.8,294.3 L867.5,294.1 L867.5,294.1 L868.2,293.8 L868.9,293.6 L869.6,293.3 L870.4,293.0 L871.1,292.6 L871.8,292.3 L872.5,291.9 L873.2,291.6 L873.9,291.2 L874.6,290.8 L875.3,290.4 L876.0,290.0 L876.7,289.5 L877.4,289.1 L878.1,288.7 L878.8,288.3 L879.5,287.8 L880.2,287.4 L880.9,287.0 L881.6,286.6 L882.3,286.2 L883.0,285.8 L883.7,285.4 L884.4,285.1 L885.1,284.7 L885.8,284.4 L886.5,284.1 L887.2,283.8 L887.9,283.5 L888.6,283.2 L889.3,283.0 L890.0,282.8 L890.7,282.6 L891.4,282.5 L891.8,282.4 L892.1,282.3 L892.8,282.2 L893.5,282.1 L894.2,282.0 L894.9,281.9 L895.6,281.8 L896.3,281.7 L897.0,281.7 L897.7,281.6 L898.5,281.5 L899.2,281.5 L899.9,281.5 L900.0,281.5" stroke="#0404ee" stroke-width="6.8" stroke-dasharray="9.2 16.3" stroke-dashoffset="5.3"/>
<path d="M900.0,281.5 L900.6,281.5 L901.3,281.7 L902.0,282.0 L902.7,282.3 L903.4,282.7 L904.1,283.0 L904.8,283.2 L905.5,283.4 L905.9,283.4 L906.2,283.4 L906.9,283.2 L907.6,282.8 L908.3,282.2 L909.0,281.4 L909.7,280.6 L910.4,279.6 L911.1,278.6 L911.8,277.6 L912.5,276.5 L913.2,275.5 L913.9,274.5 L914.6,273.6 L915.3,272.9 L916.0,272.2 L916.2,272.1 L916.7,271.7 L917.4,271.2 L918.1,270.8 L918.8,270.3 L919.5,269.8 L920.2,269.4 L920.9,269.0 L921.6,268.6 L922.3,268.2 L923.0,267.8 L923.7,267.4 L924.4,267.1 L925.1,266.7 L925.8,266.4 L926.6,266.1 L927.3,265.8 L928.0,265.5 L928.7,265.2 L929.4,265.0 L930.1,264.8 L930.6,264.6 L930.8,264.6 L931.5,264.3 L932.2,264.1 L932.9,263.9 L933.6,263.7 L934.3,263.5 L935.0,263.3 L935.7,263.1 L936.4,262.9 L937.1,262.7 L937.8,262.5 L938.5,262.4 L939.2,262.2 L939.9,262.0 L940.6,261.9 L941.3,261.7 L942.0,261.5 L942.7,261.4 L943.4,261.3 L944.1,261.1 L944.8,261.0 L945.5,260.9 L946.2,260.8 L946.9,260.7 L947.6,260.7 L948.3,260.6 L949.0,260.6 L949.7,260.5 L950.4,260.5 L951.1,260.5 L951.2,260.5 L951.8,260.5 L952.5,260.5 L953.2,260.5 L953.9,260.6 L954.7,260.6 L955.4,260.6 L956.1,260.7 L956.8,260.7 L957.5,260.8 L958.2,260.9 L958.9,260.9 L959.6,261.0 L960.3,261.1 L961.0,261.2 L961.7,261.3 L962.4,261.4 L963.1,261.5 L963.8,261.6 L964.5,261.7 L965.2,261.8 L965.9,261.9 L966.6,262.0 L967.3,262.2 L968.0,262.3 L968.7,262.4 L969.4,262.5 L970.1,262.7 L970.8,262.8 L971.5,262.9 L972.2,263.1 L972.9,263.2 L973.3,263.3 L973.6,263.4 L974.3,263.5 L975.0,263.7 L975.7,263.9 L976.4,264.1 L977.1,264.3 L977.8,264.6 L978.5,264.8 L979.2,265.1 L979.9,265.4 L980.6,265.7 L981.3,266.0 L982.0,266.3 L982.8,266.6 L983.5,267.0 L984.2,267.4 L984.9,267.8 L985.6,268.1 L986.3,268.2 L987.0,268.3 L987.7,268.7 L988.4,269.2 L989.1,269.7 L989.8,270.1 L990.2,270.3 L990.5,270.4 L991.2,270.6 L991.9,270.3 L992.6,269.9 L993.3,270.8 L994.0,272.3 L994.7,274.0 L995.4,274.3 L996.1,274.6 L996.8,274.8 L997.5,274.6 L998.2,274.3 L998.9,274.7 L999.6,275.4 L1000.3,276.1 L1001.0,276.9 L1001.7,277.7 L1002.4,278.5 L1003.1,278.4 L1003.8,278.4 L1004.5,278.6 L1005.2,279.0 L1005.9,279.4 L1006.6,279.2 L1007.3,278.7 L1008.0,278.3 L1008.0,278.4 L1008.7,280.0 L1009.4,281.7 L1010.1,282.9 L1010.9,282.9 L1011.6,283.0 L1012.3,283.3 L1013.0,283.7 L1013.7,284.1 L1014.4,283.2" stroke="#0404ee" stroke-width="6.8" stroke-dasharray="9.2 13.0" stroke-dashoffset="10.85"/>
<path d="M1015.1,282.1 L1015.8,282.0 L1016.5,284.7 L1017.2,287.4 L1017.9,288.3 L1018.6,287.4 L1019.3,286.5 L1020.0,286.3 L1020.7,286.1 L1021.4,286.2 L1022.1,288.5 L1022.8,290.7 L1023.5,291.5 L1024.2,290.0 L1024.9,288.5 L1024.9,288.5 L1025.6,288.0 L1026.3,287.7 L1027.0,287.3 L1027.7,289.1 L1028.4,290.9 L1029.1,291.9 L1029.8,291.2 L1030.5,290.5 L1031.2,292.2 L1031.9,295.7 L1032.6,299.1 L1033.3,298.7 L1034.0,297.8 L1034.7,296.9 L1035.4,296.8 L1036.1,296.7 L1036.1,296.7 L1036.8,297.4 L1037.5,299.2 L1038.2,301.0 L1038.9,299.4 L1039.6,296.9 L1040.3,294.5 L1041.0,296.6 L1041.7,298.8 L1042.4,299.3 L1043.1,296.9 L1043.8,294.4 L1044.5,294.4 L1045.2,295.7 L1045.9,297.0 L1046.7,296.6 L1047.4,296.1 L1048.1,296.3 L1048.8,299.0 L1049.5,301.7 L1050.2,303.3 L1050.9,303.7 L1051.1,303.8 L1051.6,304.4 L1052.3,304.1 L1053.0,303.8 L1053.7,304.0 L1054.4,306.7 L1054.8,307.9 L1055.1,308.6 L1055.8,309.4 L1056.5,308.8 L1057.2,308.2 L1057.9,308.8 L1058.6,309.9 L1059.3,311.0 L1060.0,310.0 L1060.7,308.8 L1061.4,307.8 L1062.1,306.9 L1062.8,306.0 L1063.5,305.6 L1064.2,305.5 L1064.2,305.5 L1064.9,305.2 L1065.6,306.6 L1066.3,308.1 L1067.0,309.3 L1067.7,309.8 L1068.4,310.2 L1069.1,309.0 L1069.8,305.9 L1070.5,302.8 L1071.2,300.5 L1071.9,298.7 L1072.6,297.3 L1073.3,299.6 L1073.6,300.6 L1074.0,302.2 L1074.7,303.5 L1075.4,301.7 L1076.1,300.0 L1076.8,299.3 L1077.5,299.3 L1078.2,299.2 L1078.9,299.5 L1079.6,299.9 L1080.3,300.1 L1081.0,299.9 L1081.7,299.7 L1082.4,299.5 L1083.0,299.5 L1083.1,299.6 L1083.8,299.7 L1084.5,299.1 L1085.2,298.4 L1085.9,297.9 L1086.6,300.7 L1087.3,303.5 L1088.0,305.2 L1088.8,305.0 L1089.5,304.7 L1090.2,305.5 L1090.4,306.1 L1090.9,306.9 L1091.6,307.9 L1092.3,305.5 L1093.0,302.6 L1093.7,299.6 L1094.4,296.5 L1095.1,293.4 L1095.8,292.5 L1096.5,293.7 L1097.2,295.1 L1097.9,297.0 L1097.9,297.1 L1098.6,299.2 L1099.3,301.1 L1100.0,299.1 L1100.7,297.2 L1101.4,296.1 L1102.1,296.2 L1102.8,296.4 L1103.5,296.7 L1104.2,297.2 L1104.9,297.7 L1105.4,298.3 L1105.6,298.6 L1106.3,299.5 L1107.0,300.7 L1107.7,302.4 L1108.4,304.3 L1109.1,305.1 L1109.8,305.2 L1110.5,305.4 L1111.1,308.9 L1111.2,309.7 L1111.9,315.2 L1112.6,320.8 L1113.3,322.2 L1114.0,323.7 L1114.7,326.3 L1114.8,326.7 L1115.4,330.0 L1116.1,333.8 L1116.8,338.5 L1117.5,343.5 L1118.2,348.5 L1118.9,352.0 L1119.5,355.0 L1119.6,355.6 L1120.3,358.6 L1121.0,361.1 L1121.7,364.3 L1122.4,368.5 L1123.1,372.1 L1123.8,374.1 L1124.2,374.3 L1124.5,373.9 L1125.2,370.8 L1125.9,365.6 L1126.6,359.1 L1127.3,352.9 L1127.5,351.8" stroke="#0404ee" stroke-width="6.8" stroke-dasharray="30 9" stroke-dashoffset="0"/>
<path d="M1128.0,347.4 L1128.7,340.2 L1129.4,332.7 L1130.1,331.3 L1130.9,333.4 L1130.9,333.6 L1131.6,336.6 L1132.3,335.2 L1133.0,334.1 L1133.7,331.7 L1134.4,328.1 L1135.1,324.7 L1135.8,319.9 L1136.5,314.7 L1137.2,309.9 L1137.5,310.6 L1137.9,312.0 L1138.6,315.8 L1139.3,319.8 L1140.0,321.9 L1140.7,324.8 L1141.4,329.6 L1142.1,335.0 L1142.8,339.8 L1143.5,344.8 L1144.2,347.7 L1144.9,347.8 L1145.0,347.5 L1145.6,347.1 L1146.3,342.8 L1147.0,335.4 L1147.7,325.6 L1148.4,315.9 L1149.1,309.5 L1149.7,307.6 L1149.8,307.6 L1150.5,307.6 L1151.2,309.0 L1151.9,310.9 L1152.6,312.4 L1153.3,312.3 L1154.0,312.3 L1154.7,313.4 L1155.4,315.2 L1156.1,316.7 L1156.2,316.9 L1156.8,316.5 L1157.5,315.8 L1158.2,315.7 L1158.9,318.7 L1159.6,321.7 L1160.3,326.9 L1161.0,334.6 L1161.7,342.5 L1162.4,343.1 L1163.1,341.5 L1163.7,340.4 L1163.8,340.2 L1164.5,340.1 L1165.2,341.4 L1165.9,345.4 L1166.6,352.3 L1167.3,359.7 L1168.0,367.2 L1168.4,370.9 L1168.7,375.0 L1169.4,385.6 L1170.1,397.1 L1170.8,404.5 L1171.2,405.7 L1171.5,404.9 L1172.2,399.8 L1172.9,392.0 L1173.7,382.6 L1174.4,373.3 L1175.0,366.7 L1175.1,366.3 L1175.8,364.0 L1176.5,363.4 L1177.2,363.1 L1177.9,359.3 L1178.6,355.8 L1179.3,354.1 L1180.0,355.3 L1180.7,356.7 L1181.4,355.6 L1182.1,353.5 L1182.4,352.7 L1182.8,351.8 L1183.5,353.9 L1184.2,356.3 L1184.9,357.6 L1185.6,355.2 L1186.3,352.9 L1187.0,352.2 L1187.7,352.9 L1188.4,353.5 L1189.1,354.5 L1189.8,355.4 L1189.9,355.5 L1190.5,356.1 L1191.2,356.6 L1191.9,356.9 L1192.6,356.3 L1193.3,354.5 L1194.0,352.6 L1194.7,349.4 L1195.4,345.7 L1196.1,342.2 L1196.8,343.4 L1197.4,344.6 L1197.5,344.8 L1198.2,345.7 L1198.9,345.1 L1199.6,344.4 L1200.3,343.6 L1201.0,342.5 L1201.7,341.5 L1202.4,340.9 L1203.1,340.3 L1203.8,340.3 L1204.5,343.7 L1205.2,347.0 L1205.9,347.4 L1206.6,344.5 L1206.8,343.7 L1207.3,341.1 L1208.0,340.3 L1208.7,340.6 L1209.4,341.3 L1210.1,347.0 L1210.8,353.2 L1211.5,357.3 L1212.2,356.5 L1212.4,356.2 L1212.9,354.3 L1213.6,350.9 L1214.3,346.9 L1215.0,342.4 L1215.8,341.5 L1216.5,341.9 L1217.1,343.1 L1217.2,343.0 L1217.9,345.1 L1218.6,352.1 L1219.3,362.4 L1220.0,373.6 L1220.7,383.3 L1221.4,389.7 L1221.8,390.5 L1222.1,390.1 L1222.8,382.5 L1223.5,368.0 L1224.2,351.7 L1224.9,337.9 L1225.5,331.4 L1225.6,331.2 L1226.3,329.3 L1227.0,331.9 L1227.7,336.9 L1228.4,342.5 L1229.1,346.8 L1229.8,350.4 L1230.5,353.5 L1231.2,357.1 L1231.2,357.1 L1231.9,358.3 L1232.6,353.9 L1233.3,345.1 L1234.0,335.6 L1234.7,327.7 L1235.4,320.7 L1236.1,316.2 L1236.8,321.4 L1236.8,321.4 L1237.5,327.9 L1238.2,330.0 L1238.9,326.0 L1239.6,322.3 L1240.3,320.7 L1241.0,320.0 L1241.7,319.7 L1242.4,329.1 L1243.1,338.6 L1243.8,344.7 L1244.3,343.5 L1244.5,343.0 L1245.2,341.7 L1245.9,345.5 L1246.6,352.8 L1247.3,360.4 L1248.0,361.8 L1248.7,362.7 L1249.4,364.5 L1249.9,366.7 L1250.1,367.9 L1250.8,371.9" stroke="#0404ee" stroke-width="7.6" stroke-dasharray="46 5" stroke-dashoffset="0"/>
<path d="M1251.5,377.2 L1252.2,383.6 L1252.9,390.5 L1253.6,397.7 L1253.6,398.2 L1254.3,408.7 L1255.0,421.0 L1255.7,432.8 L1256.4,442.5 L1257.1,447.9 L1257.4,448.4 L1257.9,447.9 L1258.6,444.6 L1259.3,439.5 L1260.0,433.9 L1260.7,428.5 L1261.1,424.6 L1261.4,422.3 L1262.1,415.3 L1262.8,408.8 L1263.5,406.0 L1264.2,403.5 L1264.9,398.8 L1264.9,398.4 L1265.6,391.7 L1266.3,384.3 L1267.0,381.3 L1267.7,380.2 L1268.4,380.7 L1268.6,381.0 L1269.1,382.0 L1269.8,383.6 L1270.5,385.3 L1271.2,386.7 L1271.9,388.3 L1272.6,390.4 L1273.3,392.7 L1273.3,392.7 L1274.0,396.5 L1274.7,397.4 L1275.4,401.2 L1276.1,407.9 L1276.8,416.4 L1277.5,421.6 L1278.0,422.6 L1278.2,422.3 L1278.9,420.2 L1279.6,415.9 L1280.3,409.9 L1281.0,403.0 L1281.7,395.9 L1281.8,394.8 L1282.4,385.7 L1283.1,372.4 L1283.8,362.4 L1284.5,359.8 L1284.6,360.0 L1285.2,361.7 L1285.9,363.8 L1286.6,366.0 L1287.3,367.9 L1288.0,362.9 L1288.7,358.0 L1289.4,355.5 L1290.1,358.5 L1290.8,361.4 L1291.5,363.1 L1292.2,364.0 L1292.9,365.0 L1293.0,365.0 L1293.6,362.6 L1294.3,359.9 L1295.0,357.9 L1295.7,359.7 L1296.4,361.3 L1297.1,360.8 L1297.8,358.1 L1298.5,355.5 L1299.2,355.0 L1299.9,355.0" stroke="#0404ee" stroke-width="7.0" stroke-dasharray="13 10" stroke-dashoffset="4"/>
<path d="M1300.7,354.9 L1301.4,354.5 L1302.1,354.1 L1302.4,353.9 L1302.8,354.2 L1303.5,354.7 L1304.2,355.1 L1304.9,354.1 L1305.6,352.5 L1306.3,350.8 L1307.0,350.6 L1307.7,350.5 L1308.4,349.6 L1309.1,346.4 L1309.8,343.4 L1310.5,342.3 L1311.2,342.9 L1311.4,343.1 L1311.9,344.0 L1312.6,346.2 L1313.3,349.2 L1314.0,352.6 L1314.7,354.9 L1315.4,357.6 L1316.1,360.3 L1316.1,360.3 L1316.8,366.3 L1317.5,376.1 L1318.2,384.7 L1318.6,386.5 L1318.9,385.7 L1319.6,379.6 L1320.3,369.1 L1321.0,358.4 L1321.7,351.6 L1321.8,351.3 L1322.4,350.2 L1323.1,349.6 L1323.8,348.6 L1324.5,347.4 L1325.2,346.4 L1325.9,346.5 L1326.6,346.7 L1327.3,346.6 L1328.0,344.7 L1328.7,342.8 L1329.2,341.2 L1329.4,340.3 L1330.1,337.3 L1330.8,334.3 L1331.5,333.3 L1332.2,332.8 L1332.9,332.5 L1333.6,333.8 L1334.3,335.1 L1335.0,335.3 L1335.7,333.5 L1336.4,331.7 L1336.7,331.1 L1337.1,331.5 L1337.8,332.1 L1338.5,332.7 L1339.2,331.2 L1339.9,329.5 L1340.6,327.8 L1341.3,326.0 L1342.0,324.3 L1342.8,324.2 L1343.5,325.5 L1344.2,327.0 L1344.9,325.7 L1345.2,324.8 L1345.6,324.2 L1346.3,325.0 L1347.0,328.0 L1347.7,331.9 L1348.4,337.9 L1348.9,344.2 L1349.1,345.9 L1349.8,353.1 L1350.5,356.9 L1351.2,359.8 L1351.9,362.9 L1352.6,365.4 L1352.7,365.5 L1353.3,365.1 L1354.0,364.1 L1354.7,362.4 L1355.4,360.5 L1356.1,358.3 L1356.8,356.2 L1357.3,355.0 L1357.5,354.6 L1358.2,352.5 L1358.9,350.2 L1359.6,348.6 L1360.3,350.8 L1361.0,352.9 L1361.7,353.1 L1362.4,350.5 L1363.1,347.9 L1363.8,347.1 L1364.5,347.0 L1365.2,346.8 L1365.9,347.5 L1366.6,348.2 L1366.7,348.3 L1367.3,348.8 L1368.0,349.6 L1368.7,350.3 L1369.4,350.2 L1370.1,349.6 L1370.8,349.1 L1371.5,349.1 L1372.2,349.3 L1372.9,349.1 L1373.6,348.0 L1374.3,346.9 L1375.0,346.2 L1375.1,346.2 L1375.7,345.7 L1376.4,344.6 L1377.1,342.8 L1377.8,340.8 L1378.5,339.0 L1379.2,338.5 L1379.8,338.6 L1379.9,338.8 L1380.6,342.8 L1381.3,349.9 L1382.0,357.6 L1382.6,362.2 L1382.7,363.1 L1383.4,367.8 L1384.1,372.7 L1384.9,377.4 L1385.6,380.8 L1386.3,382.4 L1386.4,382.4 L1387.0,380.7 L1387.7,374.9 L1388.4,367.4 L1389.1,360.7 L1389.2,359.7 L1389.8,355.8 L1390.5,351.1 L1391.2,346.7 L1391.9,343.1" stroke="#0404ee" stroke-width="6.8" stroke-dasharray="12 13" stroke-dashoffset="0"/>
<path d="M1392.6,340.2 L1392.9,339.2 L1393.3,338.4 L1394.0,337.1 L1394.7,336.1 L1395.4,335.2 L1396.1,334.3 L1396.8,333.4 L1397.5,332.7 L1398.2,332.6 L1398.6,332.6 L1398.9,332.6 L1399.6,332.5 L1400.3,331.6 L1401.0,330.8 L1401.7,330.4 L1402.4,330.1 L1403.1,329.9 L1403.8,329.6 L1404.5,329.2 L1405.2,328.9 L1405.9,329.0 L1406.6,329.1 L1407.3,329.2 L1407.9,329.2 L1408.0,329.2 L1408.7,329.3 L1409.4,329.0 L1410.1,328.5 L1410.8,328.0 L1411.5,328.1 L1412.2,328.1 L1412.9,328.2 L1413.5,328.2 L1413.6,328.2 L1414.3,328.1 L1415.0,327.6 L1415.7,326.8 L1416.4,325.9 L1417.1,325.0 L1417.8,324.0 L1418.5,323.1 L1419.2,322.6 L1419.9,322.0 L1420.6,321.2 L1421.3,320.0 L1422.0,318.9 L1422.7,318.1 L1422.9,317.9 L1423.4,317.4 L1424.1,316.7 L1424.8,316.2 L1425.5,315.6 L1426.2,314.9 L1426.9,314.1 L1427.7,313.3 L1428.4,312.2 L1429.1,311.1 L1429.8,309.9 L1430.5,309.0 L1431.2,308.2 L1431.9,307.5 L1432.6,306.9 L1433.3,306.4 L1434.0,305.8 L1434.7,305.0 L1435.4,304.2 L1436.0,303.3 L1436.1,303.2 L1436.8,302.1 L1437.5,301.0 L1438.2,301.2 L1438.9,301.3 L1439.6,300.9 L1440.3,299.9 L1441.0,298.8 L1441.7,298.2 L1442.4,297.7 L1443.1,297.3 L1443.8,296.2 L1444.5,295.2 L1445.2,294.6 L1445.9,294.9 L1446.6,295.2 L1447.3,295.0 L1448.0,294.4 L1448.2,294.3 L1448.7,294.0 L1449.4,294.2 L1450.1,294.7 L1450.8,295.2 L1451.5,295.4 L1452.2,295.8 L1452.9,296.5 L1453.6,297.7 L1454.3,299.0 L1455.0,300.0 L1455.7,301.0 L1456.4,302.1 L1457.1,303.2 L1457.8,304.4 L1458.5,305.5 L1459.2,306.8 L1459.9,308.1 L1460.6,309.1 L1461.3,310.0 L1462.0,310.9 L1462.3,311.3 L1462.7,312.0 L1463.4,313.3 L1464.1,314.6 L1464.8,315.4 L1465.5,316.3 L1466.2,317.3 L1466.9,318.5 L1467.6,319.6 L1468.3,321.0 L1469.0,322.4 L1469.8,323.6 L1470.5,324.7 L1471.2,325.7 L1471.9,326.4 L1472.6,327.0 L1473.3,327.4 L1473.5,327.4 L1474.0,327.3 L1474.7,327.1 L1475.4,326.7 L1476.1,325.6 L1476.8,324.4 L1477.5,323.5 L1478.2,323.3 L1478.9,323.0 L1479.6,322.5 L1480.3,321.8 L1481.0,321.1 L1481.7,319.8 L1482.4,318.5 L1483.1,317.1 L1483.8,315.8 L1484.5,314.6 L1485.2,313.6 L1485.9,312.7 L1486.6,311.9 L1487.3,310.9 L1488.0,309.8 L1488.5,309.0 L1488.7,308.7 L1489.4,308.1 L1490.1,307.4 L1490.8,306.5 L1491.5,305.2 L1492.2,303.9 L1492.9,303.0 L1493.6,302.3 L1494.3,301.6 L1495.0,300.6 L1495.7,299.7 L1496.4,298.9 L1497.1,298.2 L1497.8,297.8 L1497.9,297.8 L1498.5,298.9 L1499.2,302.5 L1499.9,307.0 L1500.6,311.0 L1501.3,313.4 L1501.6,313.7 L1502.0,313.3 L1502.7,311.2 L1503.4,307.9 L1504.1,304.4 L1504.8,301.2 L1505.5,298.9 L1506.2,297.6 L1506.3,297.6 L1506.9,297.6 L1507.6,298.4 L1508.3,300.8 L1509.0,303.8 L1509.7,307.0 L1510.4,309.6 L1511.1,312.3 L1511.9,315.0 L1512.6,317.4 L1513.3,319.6 L1514.0,321.6 L1514.7,323.1 L1514.7,323.1 L1515.4,324.2 L1516.1,325.5 L1516.8,326.8 L1517.5,328.0 L1518.2,328.9 L1518.9,329.7 L1519.6,330.1 L1520.3,330.0 L1520.4,330.0 L1521.0,329.8 L1521.7,329.6 L1522.4,329.3 L1523.1,328.7 L1523.8,327.8 L1524.5,326.8 L1525.2,326.1 L1525.9,325.7 L1526.6,325.4 L1526.9,325.5 L1527.3,325.8 L1528.0,326.4 L1528.7,327.1 L1529.4,327.3 L1530.1,327.7 L1530.8,328.1 L1531.5,328.6 L1532.2,329.2 L1532.9,330.2" stroke="#0404ee" stroke-width="6.8" stroke-dasharray="9.2 12.4" stroke-dashoffset="7.92"/>
</g>
<rect x="258.6" y="23.2" width="1274.3" height="936.2" fill="none" stroke="#000" stroke-width="7.4" stroke-linejoin="round"/>
<g stroke="#000" stroke-width="7.4" stroke-linecap="round" fill="none">
<line x1="240.3" y1="179.7" x2="258.6" y2="179.7"/>
<line x1="240.3" y1="959.4" x2="258.6" y2="959.4"/>
<line x1="249.8" y1="569" x2="258.6" y2="569"/>
<line x1="424.8" y1="959.4" x2="424.8" y2="976.6"/>
<line x1="286.3" y1="959.4" x2="286.3" y2="968.2"/>
<line x1="701.8" y1="959.4" x2="701.8" y2="976.6"/>
<line x1="563.3" y1="959.4" x2="563.3" y2="968.2"/>
<line x1="978.9" y1="959.4" x2="978.9" y2="976.6"/>
<line x1="840.3" y1="959.4" x2="840.3" y2="968.2"/>
<line x1="1255.9" y1="959.4" x2="1255.9" y2="976.6"/>
<line x1="1117.4" y1="959.4" x2="1117.4" y2="968.2"/>
<line x1="1532.9" y1="959.4" x2="1532.9" y2="976.6"/>
<line x1="1394.4" y1="959.4" x2="1394.4" y2="968.2"/>
</g>
<g font-family="Liberation Sans, Arial, Helvetica, sans-serif" font-weight="bold" fill="#000">
<text transform="translate(424.8 1031.2) scale(1.0 1.04)" font-size="50.5" text-anchor="middle">3000</text>
<text transform="translate(701.8 1031.2) scale(1.0 1.04)" font-size="50.5" text-anchor="middle">2500</text>
<text transform="translate(978.9 1031.2) scale(1.0 1.04)" font-size="50.5" text-anchor="middle">2000</text>
<text transform="translate(1255.9 1031.2) scale(1.0 1.04)" font-size="50.5" text-anchor="middle">1500</text>
<text transform="translate(1532.9 1031.2) scale(1.0 1.04)" font-size="50.5" text-anchor="middle">1000</text>
<text transform="translate(227.2 195.2) scale(1.0 1.04)" font-size="50.5" text-anchor="end">50</text>
<text transform="translate(227.2 974.0) scale(1.0 1.04)" font-size="50.5" text-anchor="end">40</text>
<text transform="translate(90.2 787.0) rotate(-90) scale(1.0 1.04)" font-size="60.5" text-anchor="start" textLength="514.5" lengthAdjust="spacingAndGlyphs">Transmittance (%)</text>
<text transform="translate(617.0 1137.2) scale(0.9896 1.035)" font-size="60.5" text-anchor="start">Wavenumber (cm<tspan font-size="36" dy="-28.5"><tspan font-weight="normal">–</tspan>1</tspan><tspan dy="28.5">)</tspan></text>
<text transform="translate(929.8 104.2) scale(1.0 1.03)" font-size="41.65" text-anchor="start">Non crosslinked PICA:FPA</text>
<text transform="translate(930.6 166.4) scale(1.0 1.03)" font-size="41.65" text-anchor="start">Crosslinked PICA:FPA</text>
</g>
<line x1="806.8" y1="87.5" x2="918.8" y2="87.5" stroke="#000" stroke-width="7.4" stroke-linecap="round"/>
<line x1="807.4" y1="148.9" x2="915" y2="148.9" stroke="#0404ee" stroke-width="7.8" stroke-linecap="round" stroke-dasharray="9.6 20.8"/>
<rect x="636.9" y="435.6" width="466.3" height="328.6" fill="#fff" stroke="#000" stroke-width="2.3"/>
<g clip-path="url(#ci)" fill="none" stroke-linejoin="round">
<path d="M636.9,576.5 L638.9,576.7 L640.9,577.0 L642.9,577.2 L644.9,577.3 L646.9,577.5 L649.0,577.6 L651.0,577.7 L653.0,577.8 L654.9,577.8 L655.0,577.8 L657.0,577.8 L659.0,577.7 L661.0,577.6 L663.0,577.5 L665.0,577.4 L667.0,577.2 L669.1,577.0 L671.1,576.9 L673.1,576.7 L675.1,576.5 L677.1,576.3 L679.1,576.2 L681.1,576.1 L683.1,575.9 L685.1,575.9 L687.1,575.8 L688.6,575.8 L689.2,575.8 L691.2,575.8 L693.2,575.8 L695.2,575.9 L697.2,575.9 L699.2,576.0 L701.2,576.1 L703.2,576.1 L705.2,576.2 L707.2,576.3 L709.3,576.3 L711.3,576.4 L713.3,576.4 L715.3,576.5 L717.3,576.5 L718.6,576.5 L719.3,576.5 L721.3,576.5 L723.3,576.5 L725.3,576.5 L727.3,576.5 L729.4,576.5 L731.4,576.5 L733.4,576.4 L735.4,576.4 L737.4,576.4 L739.4,576.4 L741.4,576.4 L743.4,576.4 L745.4,576.3 L747.4,576.3 L749.5,576.3 L750.5,576.3 L751.5,576.3 L753.5,576.3 L755.5,576.2 L757.5,576.2 L759.5,576.2 L761.5,576.1 L763.5,576.1 L765.5,576.0 L767.5,576.0 L769.6,575.9 L771.6,575.9 L773.6,575.8 L775.6,575.8 L777.6,575.7 L779.6,575.7 L781.6,575.6 L783.6,575.6 L785.6,575.6 L787.6,575.5 L789.7,575.5 L791.7,575.5 L793.6,575.5 L793.7,575.5 L795.7,575.5 L797.7,575.5 L799.7,575.6 L801.7,575.7 L803.7,575.7 L805.7,575.8 L807.7,575.9 L809.8,575.9 L811.8,576.0 L813.8,576.0 L815.0,576.0 L815.8,576.0 L817.8,575.9 L819.8,575.8 L821.8,575.7 L823.8,575.5 L825.8,575.4 L827.8,575.2 L829.9,575.0 L830.0,575.0 L831.9,574.8 L833.9,574.6 L835.9,574.3 L837.9,574.0 L839.9,573.8 L841.9,573.6 L843.9,573.5 L845.0,573.5 L845.9,573.5 L847.9,573.6 L850.0,573.6 L852.0,573.8 L854.0,573.9 L856.0,574.1 L858.0,574.3 L858.0,574.3 L860.0,574.6 L862.0,575.0 L864.0,575.5 L866.0,576.0 L868.0,576.7 L870.1,577.4 L872.1,578.2 L874.1,578.9 L876.1,579.7 L877.5,580.2 L878.1,580.4 L880.1,581.2 L882.1,581.9 L884.1,582.8 L886.1,583.6 L888.1,584.5 L890.1,585.4 L892.2,586.3 L894.2,587.3 L896.2,588.2 L898.2,589.3 L900.2,590.3 L902.2,591.4 L904.2,592.5 L905.6,593.3 L906.2,593.7 L908.2,594.9 L910.2,596.2 L912.3,597.5 L914.3,598.9 L916.3,600.4 L918.3,601.9 L920.3,603.4 L922.3,605.0 L924.3,606.6 L926.3,608.2 L928.3,609.8 L929.9,611.1 L930.3,611.5 L932.4,613.2 L934.4,615.0 L936.4,616.8 L938.4,618.7 L940.4,620.6 L942.4,622.4 L944.4,624.2 L946.4,625.8 L946.8,626.1 L948.4,627.4 L950.4,629.1 L952.5,630.6 L954.5,631.9 L956.0,632.6 L956.5,632.8 L958.5,633.5 L960.5,634.2 L962.5,634.7 L964.5,635.1 L966.5,635.3 L967.0,635.3 L968.5,635.2 L970.5,634.9 L972.6,634.4 L974.6,633.8 L976.6,633.1 L978.0,632.6 L978.6,632.4 L980.6,631.3 L982.6,629.9 L984.6,628.3 L986.2,627.0 L986.6,626.6 L988.6,624.8 L990.6,622.7 L992.7,620.5 L994.7,618.2 L996.7,615.9 L998.7,613.6 L999.3,613.0 L1000.7,611.5 L1002.7,609.4 L1004.7,607.3 L1006.7,605.1 L1008.7,603.0 L1010.7,600.9 L1012.8,598.9 L1014.8,596.9 L1016.8,595.1 L1018.8,593.3 L1019.9,592.4 L1020.8,591.7 L1022.8,590.2 L1024.8,588.7 L1026.8,587.3 L1028.8,586.0 L1030.8,584.7 L1032.9,583.4 L1034.9,582.2 L1036.7,581.1 L1036.9,581.0 L1038.9,579.8 L1040.9,578.6 L1042.9,577.4 L1044.9,576.3 L1046.9,575.2 L1048.9,574.1 L1050.9,573.0 L1053.0,572.0 L1055.0,571.1 L1055.5,570.8 L1057.0,570.1 L1059.0,569.2 L1061.0,568.3 L1063.0,567.5 L1065.0,566.7 L1067.0,565.9 L1069.0,565.1 L1071.0,564.4 L1073.1,563.7 L1074.2,563.3 L1075.1,563.0 L1077.1,562.3 L1079.1,561.7 L1081.1,561.1 L1083.1,560.5 L1085.1,559.9 L1087.1,559.4 L1089.1,559.0 L1089.2,559.0 L1091.1,558.6 L1093.2,558.3 L1095.2,558.0 L1097.2,557.7 L1099.2,557.4 L1101.2,557.2 L1103.2,557.0" stroke="#000" stroke-width="2.4"/>
<path d="M636.9,555.2 L638.9,555.2 L640.9,555.2 L642.9,555.1 L644.9,555.1 L646.9,555.0 L649.0,554.9 L651.0,554.8 L653.0,554.7 L655.0,554.6 L657.0,554.5 L659.0,554.4 L661.0,554.3 L663.0,554.2 L665.0,554.1 L666.2,554.0 L667.0,553.9 L669.1,553.8 L671.1,553.6 L673.1,553.3 L675.1,553.1 L677.1,552.8 L679.1,552.5 L681.1,552.2 L683.1,551.9 L685.1,551.6 L687.1,551.4 L689.2,551.2 L691.2,551.0 L693.2,550.8 L694.3,550.8 L695.2,550.8 L697.2,550.7 L699.2,550.7 L701.2,550.6 L703.2,550.6 L705.2,550.5 L707.2,550.5 L709.3,550.5 L711.3,550.4 L713.3,550.4 L715.3,550.4 L717.3,550.3 L719.3,550.3 L721.3,550.2 L722.4,550.2 L723.3,550.2 L725.3,550.1 L727.3,550.0 L729.4,550.0 L731.4,549.9 L733.4,549.8 L735.4,549.7 L737.4,549.7 L739.4,549.6 L741.4,549.5 L743.4,549.4 L745.4,549.3 L747.4,549.1 L749.5,549.0 L751.4,548.9 L751.5,548.9 L753.5,548.7 L755.5,548.5 L757.5,548.3 L759.5,548.0 L761.5,547.8 L763.5,547.5 L765.5,547.2 L767.5,546.9 L769.6,546.6 L771.6,546.4 L773.6,546.2 L775.6,546.0 L777.6,545.9 L779.5,545.9 L779.6,545.9 L781.6,545.9 L783.6,545.9 L785.6,545.9 L787.6,545.9 L789.7,545.9 L791.7,545.9 L793.7,545.9 L795.7,545.9 L797.7,545.9 L799.7,545.9 L801.7,545.9 L803.7,545.9 L805.7,545.9 L807.7,545.9 L808.6,545.9 L809.8,545.9 L811.8,545.8 L813.8,545.7 L815.8,545.6 L817.8,545.4 L819.8,545.1 L821.8,544.9 L823.8,544.6 L825.8,544.4 L827.8,544.1 L829.9,543.9 L831.9,543.7 L833.9,543.5 L835.9,543.3 L836.7,543.3 L837.9,543.2 L839.9,543.1 L841.9,543.0 L843.9,542.9 L845.9,542.8 L847.9,542.7 L850.0,542.6 L852.0,542.5 L854.0,542.5 L856.0,542.4 L858.0,542.3 L860.0,542.3 L862.0,542.2 L864.0,542.2 L866.0,542.2 L866.2,542.2 L868.0,542.2 L870.1,542.3 L872.1,542.3 L874.1,542.4 L876.1,542.5 L878.1,542.6 L880.1,542.7 L882.1,542.9 L884.1,543.0 L886.1,543.1 L888.1,543.2 L890.1,543.2 L892.2,543.3 L894.2,543.3 L894.3,543.3 L896.2,543.3 L898.2,543.2 L900.2,543.1 L902.2,543.0 L904.2,542.8 L906.2,542.6 L908.2,542.4 L910.2,542.2 L912.3,542.0 L914.3,541.8 L916.3,541.7 L918.3,541.6 L920.3,541.5 L922.3,541.4 L923.4,541.4 L924.3,541.4 L926.3,541.5 L928.3,541.6 L930.3,541.7 L932.4,541.9 L934.4,542.1 L936.4,542.4 L938.4,542.6 L940.4,542.8 L942.4,543.1 L944.4,543.3 L946.4,543.4 L948.4,543.6 L950.4,543.7 L952.4,543.7 L952.5,543.7 L954.5,543.7 L956.5,543.7 L958.5,543.6 L960.5,543.6 L962.5,543.5 L964.5,543.5 L966.5,543.4 L968.5,543.3 L970.5,543.2 L972.6,543.1 L974.6,543.0 L976.6,542.9 L978.6,542.8 L980.5,542.7 L980.6,542.7 L982.6,542.5 L984.6,542.2 L986.6,541.8 L988.6,541.3 L990.6,540.8 L992.7,540.2 L994.7,539.6 L996.7,539.0 L998.7,538.4 L1000.7,537.9 L1002.7,537.4 L1004.7,537.0 L1006.7,536.6 L1007.7,536.5 L1008.7,536.4 L1010.7,536.2 L1012.8,536.0 L1014.8,535.8 L1016.8,535.7 L1018.8,535.5 L1020.8,535.4 L1022.8,535.3 L1024.8,535.2 L1026.8,535.0 L1028.8,534.9 L1030.8,534.8 L1032.9,534.6 L1034.9,534.5 L1036.7,534.3 L1036.9,534.3 L1038.9,534.1 L1040.9,533.9 L1042.9,533.6 L1044.9,533.4 L1046.9,533.1 L1048.9,532.9 L1050.9,532.6 L1053.0,532.4 L1055.0,532.1 L1057.0,531.8 L1059.0,531.6 L1061.0,531.3 L1063.0,531.1 L1064.8,530.9 L1065.0,530.9 L1067.0,530.7 L1069.0,530.4 L1071.0,530.2 L1073.1,530.0 L1075.1,529.8 L1077.1,529.6 L1079.1,529.4 L1081.1,529.2 L1083.1,529.0 L1085.1,528.8 L1087.1,528.6 L1089.1,528.4 L1091.1,528.3 L1093.2,528.2 L1094.8,528.1 L1095.2,528.1 L1097.2,528.0 L1099.2,527.9 L1101.2,527.9 L1103.2,527.8" stroke="#0404ee" stroke-width="3.3" stroke-dasharray="13 15.5" stroke-dashoffset="4.9"/>
</g>
<g stroke="#000" stroke-width="2.2" fill="none">
<line x1="630" y1="599.6" x2="636.9" y2="599.6"/>
<line x1="633.6" y1="476.8" x2="636.9" y2="476.8"/>
<line x1="633.6" y1="722.4" x2="636.9" y2="722.4"/>
<line x1="1103.2" y1="764.2" x2="1103.2" y2="770.4"/>
<line x1="1033.4" y1="764.2" x2="1033.4" y2="767.6"/>
<line x1="963.7" y1="764.2" x2="963.7" y2="770.4"/>
<line x1="893.9" y1="764.2" x2="893.9" y2="767.6"/>
<line x1="824.1" y1="764.2" x2="824.1" y2="770.4"/>
<line x1="754.3" y1="764.2" x2="754.3" y2="767.6"/>
<line x1="684.5" y1="764.2" x2="684.5" y2="770.4"/>
</g>
<g font-family="Liberation Sans, Arial, Helvetica, sans-serif" font-weight="bold" fill="#000">
<text transform="translate(1102.2 795.8) scale(1.0 1.05)" font-size="28" text-anchor="middle">2100</text>
<text transform="translate(962.7 795.8) scale(1.0 1.05)" font-size="28" text-anchor="middle">2130</text>
<text transform="translate(823.1 795.8) scale(1.0 1.05)" font-size="28" text-anchor="middle">2160</text>
<text transform="translate(683.5 795.8) scale(1.0 1.05)" font-size="28" text-anchor="middle">2190</text>
<text transform="translate(626.6 606.2) scale(1.0 1.04)" font-size="20.6" text-anchor="end">48</text>
<text transform="translate(586.3 734) rotate(-90)" font-size="28.8" textLength="250.5" lengthAdjust="spacingAndGlyphs">Transmittance (%)</text>
<text transform="translate(754.4 845.9) scale(0.991 1.02)" font-size="25" text-anchor="start">Wavenumber (cm<tspan font-size="15" dy="-11.8"><tspan font-weight="normal">–</tspan>1</tspan><tspan dy="11.8">)</tspan></text>
</g>
</svg>
</body>
</html>
